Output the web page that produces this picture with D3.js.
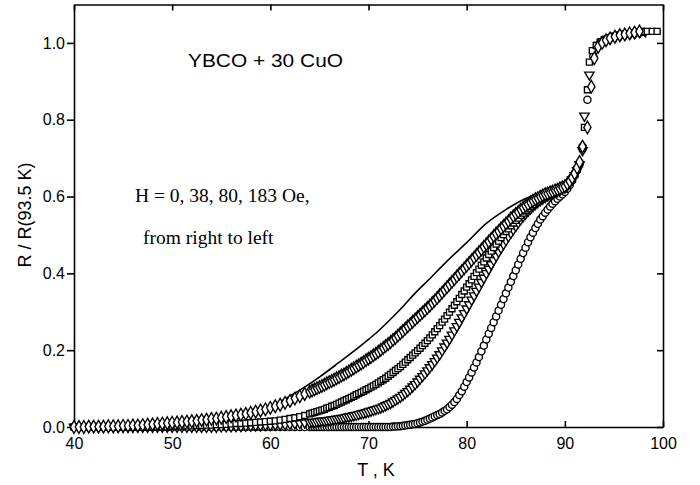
<!DOCTYPE html>
<html>
<head>
<meta charset="utf-8">
<script src="https://cdn.jsdelivr.net/npm/d3@7"></script>
<style>
  body { margin: 0; background: #fff; }
  .axis text { font-family: "Liberation Sans", Arial, sans-serif; font-size: 16px; fill: #000; }
  .axis path, .axis line { stroke: #000; stroke-width: 1.6; }
  .axisText { font-family: "Liberation Sans", Arial, sans-serif; font-size: 18px; fill: #000; }
  .note { font-family: "Liberation Serif", "Times New Roman", serif; font-size: 19.5px; fill: #000; }
</style>
</head>
<body>
<div class="chart"></div>
<script>
// temperature grid (K) shared by the four field series
var tempGrid = [40,40.5,41,41.5,42,42.5,43,43.5,44,44.5,45,45.5,46,46.5,47,47.5,48,48.5,49,49.5,
  50,50.5,51,51.5,52,52.5,53,53.5,54,54.5,55,55.5,56,56.5,57,57.5,58,58.5,59,59.5,
  60,60.5,61,61.5,62,62.5,63,63.5,
  64,64.25,64.5,64.75,65,65.25,65.5,65.75,66,66.25,66.5,66.75,67,67.25,67.5,67.75,
  68,68.25,68.5,68.75,69,69.25,69.5,69.75,70,70.25,70.5,70.75,71,71.25,71.5,71.75,72,
  72.25,72.5,72.75,73,73.25,73.5,73.75,74,74.25,74.5,74.75,75,75.25,75.5,75.75,76,
  76.25,76.5,76.75,77,77.25,77.5,77.75,78,78.25,78.5,78.75,79,79.25,79.5,79.75,80,
  80.25,80.5,80.75,81,81.25,81.5,81.75,82,82.25,82.5,82.75,83,83.25,83.5,83.75,84,
  84.25,84.5,84.75,85,85.25,85.5,85.75,86,86.25,86.5,86.75,87,87.25,87.5,87.75,88,
  88.25,88.5,88.75,89,89.25,89.5,89.75,90,90.25,90.5,90.75,91,91.25,91.5];

// R / R(93.5 K), H = 0 Oe (circles)
var rH0 = [0,0,0,0,0,0,0,0,0,0,0,0,0,0,0,0,0,0,0,0,
  0,0,0,0,0,0,0,0,0,0,0,0,0,0,0,0,0,0,0,0,
  0,0,0,0,0,0,0,0,
  0,0,0,0,0,0,0,0,0,0,0,0,0,0,0,0,
  0,0,0,0,0,0,0,0,0,0,0,0,0,0,0,0,0,
  0,0.001,0.001,0.002,0.002,0.003,0.004,0.005,0.006,0.007,0.008,0.01,0.012,0.014,0.016,0.019,
  0.022,0.025,0.028,0.031,0.034,0.038,0.042,0.046,0.052,0.058,0.065,0.073,0.083,0.093,0.105,0.117,
  0.129,0.142,0.155,0.168,0.182,0.197,0.212,0.228,0.243,0.258,0.273,0.288,0.303,0.318,0.333,0.348,
  0.363,0.378,0.393,0.408,0.423,0.438,0.453,0.467,0.481,0.494,0.506,0.518,0.529,0.54,0.549,0.558,
  0.566,0.574,0.581,0.588,0.594,0.60,0.606,0.612,0.62,0.63,0.642,0.655,0.67,0.685];

// H = 38 Oe (triangles)
var rH38 = [0,0,0,0,0,0,0,0,0,0,0,0,0,0,0,0,0,0,0,0,
  0,0,0,0,0,0,0,0,0,0,0.001,0.001,0.001,0.002,0.002,0.003,0.003,0.004,0.004,0.005,
  0.005,0.006,0.006,0.007,0.008,0.009,0.01,0.011,
  0.012,0.013,0.013,0.014,0.015,0.016,0.016,0.017,0.018,0.019,0.02,0.021,0.022,0.023,0.024,0.026,
  0.027,0.028,0.03,0.031,0.033,0.035,0.036,0.038,0.04,0.042,0.044,0.046,0.048,0.05,0.053,0.056,0.059,
  0.062,0.066,0.07,0.074,0.078,0.083,0.088,0.093,0.099,0.105,0.111,0.118,0.125,0.132,0.139,0.147,
  0.155,0.163,0.171,0.18,0.189,0.199,0.209,0.219,0.229,0.24,0.251,0.262,0.273,0.285,0.296,0.308,
  0.319,0.331,0.342,0.354,0.365,0.377,0.388,0.40,0.411,0.423,0.434,0.445,0.456,0.466,0.476,0.486,
  0.496,0.505,0.514,0.523,0.532,0.54,0.548,0.555,0.562,0.568,0.574,0.58,0.585,0.59,0.594,0.598,
  0.602,0.605,0.608,0.611,0.614,0.617,0.62,0.623,0.628,0.635,0.644,0.655,0.668,0.683];

// H = 80 Oe (squares)
var rH80 = [0,0,0,0,0,0,0,0,0,0,0,0,0,0,0,0,0,0,0,0,
  0.002,0.002,0.002,0.003,0.003,0.004,0.004,0.005,0.005,0.006,0.006,0.007,0.008,0.009,0.009,0.01,0.011,0.012,0.013,0.014,
  0.015,0.016,0.018,0.02,0.022,0.024,0.027,0.03,
  0.034,0.036,0.038,0.04,0.042,0.044,0.046,0.049,0.051,0.054,0.056,0.059,0.062,0.065,0.068,0.071,
  0.074,0.077,0.08,0.084,0.087,0.09,0.093,0.097,0.10,0.104,0.107,0.111,0.115,0.119,0.123,0.127,0.132,
  0.137,0.142,0.147,0.152,0.157,0.163,0.169,0.175,0.181,0.187,0.193,0.199,0.205,0.212,0.218,0.225,
  0.232,0.24,0.248,0.256,0.264,0.273,0.281,0.29,0.299,0.308,0.317,0.326,0.335,0.345,0.354,0.364,
  0.373,0.383,0.392,0.402,0.411,0.421,0.43,0.44,0.449,0.458,0.467,0.476,0.484,0.493,0.501,0.509,
  0.516,0.524,0.531,0.538,0.544,0.551,0.557,0.563,0.568,0.574,0.579,0.584,0.588,0.593,0.596,0.60,
  0.603,0.607,0.61,0.613,0.616,0.619,0.622,0.625,0.631,0.638,0.647,0.658,0.671,0.686];

// H = 183 Oe (diamonds)
var rH183 = [0,0,0,0.001,0.001,0.001,0.001,0.002,0.002,0.002,0.003,0.003,0.004,0.004,0.005,0.006,0.007,0.008,0.009,0.01,
  0.011,0.012,0.013,0.014,0.015,0.016,0.018,0.019,0.021,0.022,0.024,0.026,0.028,0.03,0.032,0.034,0.037,0.04,0.043,0.046,
  0.05,0.054,0.058,0.063,0.068,0.074,0.08,0.086,
  0.092,0.095,0.098,0.101,0.104,0.107,0.11,0.114,0.117,0.12,0.123,0.127,0.13,0.134,0.137,0.141,
  0.145,0.149,0.153,0.157,0.161,0.165,0.169,0.174,0.178,0.182,0.187,0.191,0.196,0.201,0.206,0.211,0.216,
  0.221,0.227,0.232,0.238,0.244,0.25,0.256,0.262,0.268,0.274,0.28,0.286,0.292,0.298,0.304,0.31,
  0.316,0.323,0.329,0.336,0.343,0.35,0.357,0.364,0.371,0.378,0.385,0.392,0.399,0.406,0.413,0.42,
  0.427,0.434,0.441,0.448,0.455,0.462,0.469,0.476,0.483,0.49,0.497,0.504,0.51,0.517,0.523,0.53,
  0.536,0.543,0.549,0.555,0.56,0.566,0.571,0.576,0.58,0.585,0.589,0.593,0.596,0.60,0.603,0.606,
  0.608,0.611,0.613,0.616,0.618,0.621,0.624,0.627,0.633,0.64,0.649,0.66,0.675,0.69];

// transition and normal-state part, own temperatures per series
var tailTH0 = [91.8,92.3,92.9,93.3,93.7,94.1,94.5,95,95.5,96,96.5,97,97.5,98];
var tailRH0 = [0.73,0.852,0.965,0.99,1.0,1.008,1.013,1.017,1.02,1.022,1.024,1.026,1.028,1.029];
var tailTH38 = [91.8,92.0,92.5,93.1,93.5,93.9,94.3,94.7,95.2,95.7,96.2,96.7,97.2,97.7,98.2];
var tailRH38 = [0.72,0.81,0.917,0.98,0.995,1.004,1.01,1.014,1.018,1.021,1.023,1.025,1.027,1.029,1.03];
var tailTH80 = [91.8,92.0,92.3,92.5,92.8,93.2,93.6,94,94.4,94.9,95.4,95.9,96.4,96.9,97.4,97.9,98.4,98.9,99.4];
var tailRH80 = [0.725,0.78,0.878,0.95,0.98,0.993,1.002,1.008,1.012,1.016,1.019,1.022,1.024,1.026,1.028,1.029,1.03,1.03,1.03];
var tailTH183 = [91.8,92.3,92.7,93.0,93.4,93.8,94.2,94.6,95.1,95.6,96.1,96.6,97.1,97.6];
var tailRH183 = [0.73,0.78,0.886,0.96,0.99,1.0,1.007,1.012,1.016,1.02,1.022,1.025,1.027,1.03];

// solid curve without markers (leftmost)
var curveT = [55,58,60,61,63,65,67,69,70,71,73,75,76,78,80,82,84,86,88,89];
var curveR = [0.015,0.032,0.052,0.066,0.096,0.13,0.168,0.207,0.228,0.25,0.30,0.355,0.38,0.432,0.48,0.53,0.566,0.595,0.612,0.616];

var xTicks = [40,50,60,70,80,90,100];
var yTicks = [0,0.2,0.4,0.6,0.8,1.0];

var svgWidth = 700;
var svgHeight = 485;
var margin = { top: 4.5, right: 37, bottom: 58, left: 74 };
var width = svgWidth - margin.left - margin.right;
var height = svgHeight - margin.top - margin.bottom;

var svg = d3.select(".chart")
  .append("svg")
  .attr("width", svgWidth)
  .attr("height", svgHeight);

var chartGroup = svg.append("g")
  .attr("transform", `translate(${margin.left}, ${margin.top})`);

var xScale = d3.scaleLinear().domain([40, 100]).range([0, width]);
var yScale = d3.scaleLinear().domain([0, 1.1]).range([height, 0]);

function makeSeries(temps, vals, tailT, tailR) {
  var pts = temps.map((t, i) => ({ t: t, r: vals[i] }));
  return pts.concat(tailT.map((t, i) => ({ t: t, r: tailR[i] })))
    .filter(d => d.r !== undefined);
}

var series = [
  { type: d3.symbolCircle, size: 40, data: makeSeries(tempGrid, rH0, tailTH0, tailRH0) },
  { type: d3.symbolTriangle, size: 38, rot: 180, data: makeSeries(tempGrid, rH38, tailTH38, tailRH38) },
  { type: d3.symbolSquare, size: 36, data: makeSeries(tempGrid, rH80, tailTH80, tailRH80) },
  { type: d3.symbolDiamond, size: 46, data: makeSeries(tempGrid, rH183, tailTH183, tailRH183) }
];

// axes
chartGroup.append("g")
  .attr("class", "axis")
  .call(d3.axisLeft(yScale).tickValues(yTicks).tickFormat(d3.format(".1f")).tickSizeInner(7).tickSizeOuter(0).tickPadding(2));
chartGroup.append("g")
  .attr("class", "axis")
  .attr("transform", `translate(0, ${height})`)
  .call(d3.axisBottom(xScale).tickValues(xTicks).tickFormat(d3.format("d")).tickSizeInner(-6).tickSizeOuter(0).tickPadding(11));
chartGroup.append("g")
  .attr("class", "axis")
  .call(d3.axisTop(xScale).tickValues(xTicks).tickFormat("").tickSizeInner(-6).tickSizeOuter(0));
chartGroup.append("g")
  .attr("class", "axis")
  .attr("transform", `translate(${width}, 0)`)
  .call(d3.axisRight(yScale).tickValues(yTicks).tickFormat("").tickSizeInner(-6).tickSizeOuter(0));

var line = d3.line()
  .x(d => xScale(d.t))
  .y(d => yScale(d.r))
  .curve(d3.curveMonotoneX);

chartGroup.append("path")
  .datum(curveT.map((t, i) => ({ t: t, r: curveR[i] })))
  .attr("d", line)
  .attr("fill", "none")
  .attr("stroke", "#000")
  .attr("stroke-width", 1.6);

// fit lines along the H = 0, 38 and 80 Oe data, under the markers
[rH0, rH38, rH80].forEach(function(vals) {
  var pts = tempGrid.map((t, i) => ({ t: t, r: vals[i] })).filter(d => d.t >= 70);
  chartGroup.append("path")
    .datum(pts)
    .attr("d", line)
    .attr("fill", "none")
    .attr("stroke", "#000")
    .attr("stroke-width", 1.4);
});

series.forEach(function(s) {
  chartGroup.append("g")
    .selectAll("path")
    .data(s.data)
    .enter()
    .append("path")
    .attr("d", d3.symbol().type(s.type).size(s.size))
    .attr("transform", d => `translate(${xScale(d.t)}, ${yScale(d.r)})` + (s.rot ? ` rotate(${s.rot})` : ""))
    .attr("fill", "#fff")
    .attr("stroke", "#000")
    .attr("stroke-width", 1.35);
});

chartGroup.append("text")
  .attr("class", "axisText")
  .attr("x", 188 - margin.left)
  .attr("y", 67 - margin.top)
  .attr("textLength", 155)
  .attr("lengthAdjust", "spacingAndGlyphs")
  .text("YBCO + 30 CuO");

chartGroup.append("text")
  .attr("class", "note")
  .attr("x", 135 - margin.left)
  .attr("y", 202 - margin.top)
  .text("H = 0, 38, 80, 183 Oe,");

chartGroup.append("text")
  .attr("class", "note")
  .attr("x", 143 - margin.left)
  .attr("y", 244 - margin.top)
  .text("from right to left");

chartGroup.append("text")
  .attr("transform", "rotate(-90)")
  .attr("y", 31 - margin.left)
  .attr("x", 0 - (215 - margin.top))
  .attr("text-anchor", "middle")
  .attr("class", "axisText")
  .text("R / R(93.5 K)");

chartGroup.append("text")
  .attr("transform", `translate(${376 - margin.left}, ${476 - margin.top})`)
  .attr("text-anchor", "middle")
  .attr("class", "axisText")
  .text("T , K");
</script>
</body>
</html>
